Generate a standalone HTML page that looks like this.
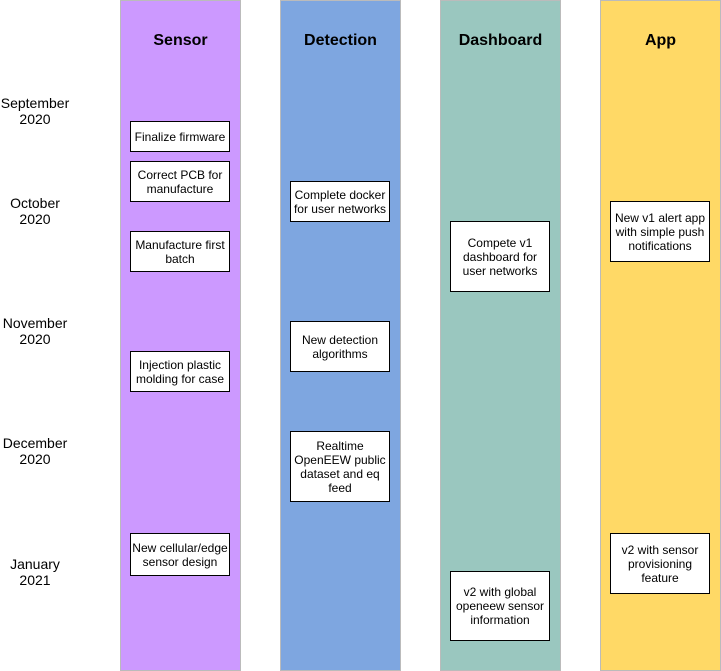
<!DOCTYPE html>
<html><head><meta charset="utf-8"><style>
body{margin:0;width:721px;height:671px;background:#fff;position:relative;overflow:hidden;font-family:"Liberation Sans",Arial,sans-serif}
.col{position:absolute;top:0;width:119px;height:669px;border:1px solid #bbb}
.hd{position:absolute;top:31px;width:100%;text-align:center;font-weight:bold;font-size:16px;color:#000}
.box{position:absolute;left:9px;width:98px;background:#fff;border:1px solid #000;font-size:12px;line-height:14px;text-align:center;display:flex;align-items:center;justify-content:center;box-sizing:content-box}
.lbl{position:absolute;left:0;width:70px;text-align:center;font-size:14px;line-height:16px;color:#000}
</style></head><body>
<div class="col" style="left:120px;background:#CC99FF"><div class="hd">Sensor</div>
<div class="box" style="top:120px;height:29px">Finalize firmware</div>
<div class="box" style="top:160px;height:39px">Correct PCB for manufacture</div>
<div class="box" style="top:230px;height:39px">Manufacture first batch</div>
<div class="box" style="top:350px;height:39px">Injection plastic molding for case</div>
<div class="box" style="top:532px;height:41px">New cellular/edge sensor design</div>
</div>
<div class="col" style="left:280px;background:#7EA6E0"><div class="hd">Detection</div>
<div class="box" style="top:180px;height:39px">Complete docker for user networks</div>
<div class="box" style="top:320px;height:49px">New detection algorithms</div>
<div class="box" style="top:430px;height:69px">Realtime OpenEEW public dataset and eq feed</div>
</div>
<div class="col" style="left:440px;background:#9AC7BF"><div class="hd">Dashboard</div>
<div class="box" style="top:220px;height:69px">Compete v1 dashboard for user networks</div>
<div class="box" style="top:570px;height:68px">v2 with global openeew sensor information</div>
</div>
<div class="col" style="left:600px;background:#FFD966"><div class="hd">App</div>
<div class="box" style="top:200px;height:59px">New v1 alert app with simple push notifications</div>
<div class="box" style="top:532px;height:59px">v2 with sensor provisioning feature</div>
</div>
<div class="lbl" style="top:95px">September<br>2020</div>
<div class="lbl" style="top:195px">October<br>2020</div>
<div class="lbl" style="top:315px">November<br>2020</div>
<div class="lbl" style="top:435px">December<br>2020</div>
<div class="lbl" style="top:556px">January<br>2021</div>
</body></html>
